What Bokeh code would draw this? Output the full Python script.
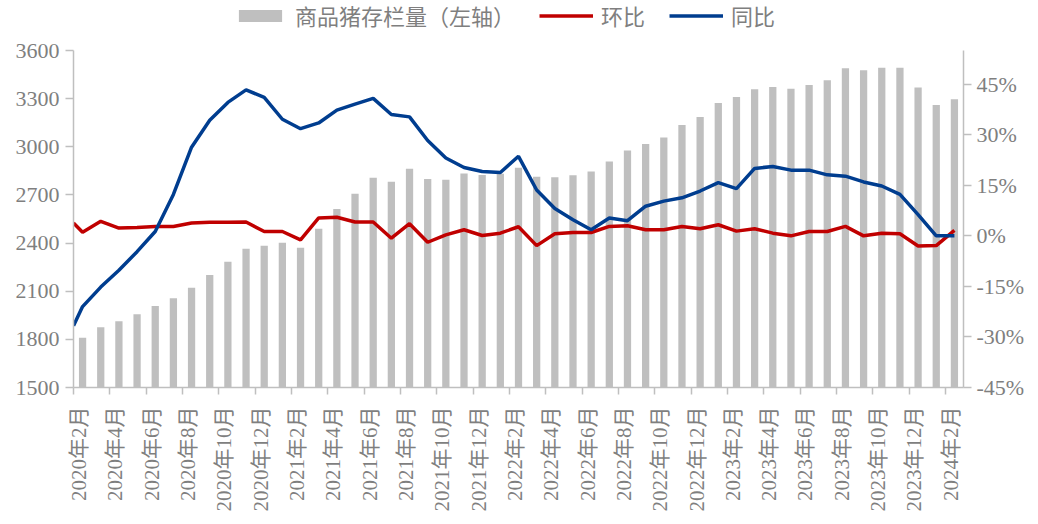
import math
from bokeh.plotting import figure
from bokeh.layouts import column
from bokeh.models import (Range1d, LinearAxis, FixedTicker, Legend, LegendItem,
                          PrintfTickFormatter)
from bokeh.embed import file_html
from bokeh.resources import INLINE

# ---------------- data ----------------
months = [f"{2020 + (m - 1) // 12}年{(m - 1) % 12 + 1}月" for m in range(2, 51)]  # 2020年2月 .. 2024年2月

# 商品猪存栏量 (left axis)
inventory = [1810, 1875, 1913, 1956, 2008, 2056, 2122, 2201, 2284, 2365, 2384, 2402,
             2371, 2489, 2612, 2707, 2807, 2782, 2863, 2799, 2794, 2834, 2824, 2832,
             2870, 2813, 2810, 2823, 2846, 2908, 2977, 3018, 3058, 3135, 3186, 3273,
             3311, 3359, 3373, 3361, 3385, 3415, 3489, 3477, 3493, 3493, 3369, 3261,
             3296]

# line series: first value sits on the left edge of the plot, then one per month
mom = [3.8,
       1.1, 4.3, 2.3, 2.5, 2.8, 2.8, 3.8, 4.0, 4.0, 4.1, 1.3, 1.3,
       -1.2, 5.3, 5.5, 4.1, 4.1, -0.7, 3.6, -1.9, 0.3, 1.8, 0.1, 0.8,
       2.7, -2.9, 0.6, 1.0, 1.0, 2.8, 3.0, 1.8, 1.8, 2.8, 2.1, 3.3,
       1.4, 2.1, 0.8, 0.0, 1.3, 1.3, 2.8, 0.0, 0.8, 0.6, -3.0, -2.9,
       1.6]
yoy = [-26.7,
       -21.0, -15.2, -10.2, -4.7, 1.3, 12.3, 26.3, 34.3, 39.6, 43.3, 41.1, 34.6,
       31.8, 33.5, 37.3, 39.1, 40.8, 36.0, 35.3, 28.3, 23.1, 20.3, 19.1, 18.8,
       23.6, 13.6, 8.1, 4.8, 1.8, 5.3, 4.5, 8.8, 10.3, 11.3, 13.3, 15.8,
       14.0, 20.0, 20.6, 19.5, 19.5, 18.1, 17.7, 16.0, 14.8, 12.3, 6.3, 0.0,
       0.0]

left_ticks = [1500, 1800, 2100, 2400, 2700, 3000, 3300, 3600]
right_ticks = [-45, -30, -15, 0, 15, 30, 45]

legend_labels = ["商品猪存栏量（左轴）", "环比", "同比"]

# ---------------- style ----------------
GREY_TXT = "#7F7F7F"
AXIS_C = "#BFBFBF"
BAR_C = "#BFBFBF"
RED_C = "#C00000"
BLUE_C = "#003D8F"
NUM_FONT = "Liberation Serif, Noto Sans CJK SC"
CJK_FONT = "Noto Sans CJK SC"
W = 1030
LEG_H = 36

n = len(inventory)
bar_x = [i + 0.5 for i in range(n)]
line_x = [0.0] + bar_x

# ---------------- main chart ----------------
p = figure(width=W, height=516 - LEG_H,
           x_range=Range1d(0, n), y_range=Range1d(left_ticks[0], left_ticks[-1]),
           output_backend="svg", toolbar_location=None,
           min_border_left=73, min_border_right=67,
           min_border_top=14, min_border_bottom=129)
p.extra_y_ranges = {"pct": Range1d(-45, 55)}
p.outline_line_color = None
p.xgrid.visible = False
p.ygrid.visible = False

bars = p.vbar(x=bar_x, top=inventory, bottom=left_ticks[0], width=0.4,
              fill_color=BAR_C, line_color=None)
red = p.line(x=line_x, y=mom, y_range_name="pct", line_color=RED_C, line_width=3.5)
blue = p.line(x=line_x, y=yoy, y_range_name="pct", line_color=BLUE_C, line_width=3.5)

# x axis: labels every 2nd month, tick marks at category boundaries
xa = p.xaxis[0]
xa.ticker = FixedTicker(ticks=[bar_x[i] - 0.2 for i in range(0, n, 2)],
                        minor_ticks=[float(i) for i in range(0, n, 2)])
xa.major_label_overrides = {bar_x[i] - 0.2: months[i] for i in range(0, n, 2)}
xa.major_label_orientation = math.pi / 2
xa.major_tick_in = 0
xa.major_tick_out = 0
xa.major_tick_line_color = None
xa.minor_tick_in = 0
xa.minor_tick_out = 7
xa.minor_tick_line_color = AXIS_C
xa.minor_tick_line_width = 1.5
xa.axis_line_color = AXIS_C
xa.axis_line_width = 1.5
xa.major_label_text_font = NUM_FONT
xa.major_label_text_font_size = "21px"
xa.major_label_text_color = GREY_TXT
xa.major_label_standoff = 12

ya = p.yaxis[0]
ya.ticker = FixedTicker(ticks=left_ticks)
ya.minor_tick_line_color = None
ya.major_tick_in = 0
ya.major_tick_out = 8
ya.major_tick_line_color = AXIS_C
ya.major_tick_line_width = 1.5
ya.axis_line_color = AXIS_C
ya.axis_line_width = 1.5
ya.major_label_text_font = NUM_FONT
ya.major_label_text_font_size = "22px"
ya.major_label_text_color = GREY_TXT
ya.major_label_standoff = 6

ra = LinearAxis(y_range_name="pct", ticker=FixedTicker(ticks=right_ticks),
                formatter=PrintfTickFormatter(format="%d%%"))
ra.minor_tick_line_color = None
ra.major_tick_in = 0
ra.major_tick_out = 8
ra.major_tick_line_color = AXIS_C
ra.major_tick_line_width = 1.5
ra.axis_line_color = AXIS_C
ra.axis_line_width = 1.5
ra.major_label_text_font = NUM_FONT
ra.major_label_text_font_size = "22px"
ra.major_label_text_color = GREY_TXT
ra.major_label_standoff = 5
p.add_layout(ra, "right")

# ---------------- legend strip above the chart ----------------
# (the swatch renderers sit outside the strip's visible range; only their legend entries show)
lg = figure(width=W, height=LEG_H, x_range=Range1d(0, 1), y_range=Range1d(0, 1),
            x_axis_type=None, y_axis_type=None, output_backend="svg",
            toolbar_location=None, min_border=0, min_border_left=0,
            min_border_right=0, min_border_top=0, min_border_bottom=0,
            outline_line_color=None)
lg.xgrid.visible = False
lg.ygrid.visible = False
lb = lg.vbar(x=[-10], top=[-10], bottom=-11, width=0.4, fill_color=BAR_C, line_color=None)
lr = lg.line(x=[-10, -9], y=[-10, -10], line_color=RED_C, line_width=3.5)
lbl = lg.line(x=[-10, -9], y=[-10, -10], line_color=BLUE_C, line_width=3.5)

legend = Legend(items=[LegendItem(label=legend_labels[0], renderers=[lb]),
                       LegendItem(label=legend_labels[1], renderers=[lr]),
                       LegendItem(label=legend_labels[2], renderers=[lbl])],
                orientation="horizontal", location=(160, 5),
                padding=0, margin=0, spacing=24, label_standoff=8,
                glyph_width=54, glyph_height=15, label_height=22,
                label_text_font=CJK_FONT, label_text_font_size="22px",
                label_text_color=GREY_TXT,
                border_line_color=None, background_fill_alpha=0)
lg.add_layout(legend)

layout = column(lg, p, spacing=0)
open("out.html", "w").write(file_html(layout, INLINE))
